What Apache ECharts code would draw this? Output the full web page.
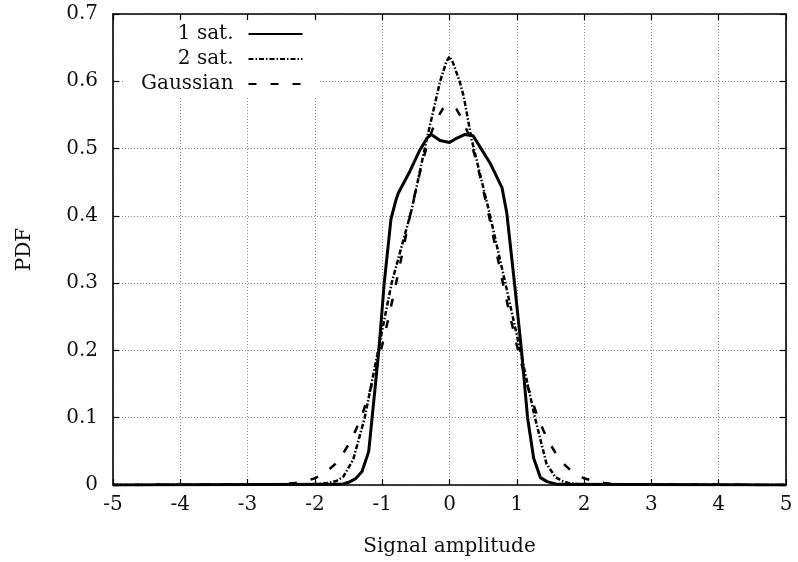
<!DOCTYPE html>
<html>
<head>
<meta charset="utf-8">
<script src="https://cdn.jsdelivr.net/npm/echarts@6/dist/echarts.min.js"></script>
<style>
  html, body { margin: 0; padding: 0; background: #fff; }
  #chart { width: 798px; height: 562px; }
</style>
</head>
<body>
<div id="chart"></div>
<script>
"use strict";

// values
const seriesNames = ["1 sat.", "2 sat.", "Gaussian"];

const sat1X = [-5, -1.6, -1.5, -1.4, -1.3, -1.2, -1.15, -1.05, -0.97, -0.87, -0.8, -0.76, -0.59, -0.44, -0.33, -0.27, -0.14, 0, 0.08, 0.23, 0.35, 0.4, 0.6, 0.78, 0.85, 0.9, 0.97, 1.07, 1.16, 1.25, 1.35, 1.45, 1.6, 5];
const sat1Y = [0, 0.001, 0.004, 0.009, 0.02, 0.05, 0.1, 0.2, 0.3, 0.395, 0.422, 0.434, 0.466, 0.498, 0.516, 0.521, 0.512, 0.509, 0.514, 0.521, 0.519, 0.511, 0.479, 0.442, 0.405, 0.36, 0.296, 0.2, 0.1, 0.04, 0.011, 0.005, 0.001, 0];

const sat2X = [-5, -2.0, -1.8, -1.68, -1.58, -1.43, -1.26, -1.06, -0.86, -0.56, -0.34, -0.19, -0.14, -0.05, 0, 0.05, 0.15, 0.21, 0.33, 0.58, 0.83, 1.05, 1.27, 1.44, 1.57, 1.67, 1.8, 2.0, 5];
const sat2Y = [0, 0.001, 0.003, 0.006, 0.012, 0.038, 0.1, 0.2, 0.3, 0.41, 0.513, 0.578, 0.6, 0.628, 0.637, 0.628, 0.6, 0.578, 0.513, 0.41, 0.3, 0.2, 0.1, 0.032, 0.012, 0.006, 0.002, 0.001, 0];

const gaussX = [-5, -2.6, -2.4, -2.3, -2.2, -2.1, -2.0, -1.9, -1.8, -1.7, -1.6, -1.5, -1.4, -1.3, -1.2, -1.1, -1.0, -0.9, -0.8, -0.7, -0.6, -0.5, -0.4, -0.3, -0.2, -0.1, 0,
  0.1, 0.2, 0.3, 0.4, 0.5, 0.6, 0.7, 0.8, 0.9, 1.0, 1.1, 1.2, 1.3, 1.4, 1.5, 1.6, 1.7, 1.8, 1.9, 2.0, 2.1, 2.2, 2.3, 2.4, 2.6, 5];
const gaussY = [0, 0.001, 0.002, 0.003, 0.0045, 0.007, 0.010, 0.015, 0.022, 0.031, 0.044, 0.060, 0.080, 0.104, 0.134, 0.168, 0.208, 0.251, 0.297, 0.345, 0.394, 0.439, 0.481, 0.516, 0.542, 0.559, 0.564,
  0.559, 0.542, 0.516, 0.481, 0.439, 0.394, 0.345, 0.297, 0.251, 0.208, 0.168, 0.134, 0.104, 0.080, 0.060, 0.044, 0.031, 0.022, 0.015, 0.010, 0.007, 0.0045, 0.003, 0.002, 0.001, 0];

const xTicks = { min: -5, max: 5, step: 1 };
const yTicks = { min: 0, max: 0.7, step: 0.1 };

const font = "DejaVu Serif";
const pairs = (xs, ys) => xs.map((x, i) => [x, ys[i]]);

const gridLine = { show: true, lineStyle: { color: "#8a8a8a", width: 1, type: [1, 2] } };
const border = { show: true, onZero: false, lineStyle: { color: "#000", width: 1.6 } };
const inTick = { show: true, inside: true, length: 6, lineStyle: { color: "#000", width: 1.2 } };
const tickLabel = { color: "#111", fontFamily: font, fontSize: 20 };

const chart = echarts.init(document.getElementById("chart"), null, { renderer: "canvas" });

chart.setOption({
  animation: false,
  backgroundColor: "#fff",
  grid: { left: 113, right: 12, top: 14, bottom: 76, containLabel: false },
  legend: {
    orient: "vertical", align: "right", left: 123, top: 20,
    padding: [4, 15, 3, 18], itemGap: 5, itemWidth: 54, itemHeight: 20,
    backgroundColor: "#fff", selectedMode: false,
    itemStyle: { opacity: 0 },
    textStyle: { color: "#111", fontFamily: font, fontSize: 20, lineHeight: 20, padding: [0, 10, 0, 0] },
    data: seriesNames,
  },
  xAxis: [
    {
      type: "value", min: xTicks.min, max: xTicks.max, interval: xTicks.step, position: "bottom",
      axisLine: border, axisTick: inTick, splitLine: gridLine,
      axisLabel: { ...tickLabel, margin: 10 },
      name: "Signal amplitude", nameLocation: "middle", nameGap: 52,
      nameTextStyle: { color: "#111", fontFamily: font, fontSize: 20 },
    },
    {
      type: "value", min: xTicks.min, max: xTicks.max, interval: xTicks.step, position: "top",
      axisLine: border, axisTick: inTick, splitLine: { show: false }, axisLabel: { show: false },
    },
  ],
  yAxis: [
    {
      type: "value", min: yTicks.min, max: yTicks.max, interval: yTicks.step, position: "left",
      axisLine: border, axisTick: inTick, splitLine: gridLine,
      axisLabel: { ...tickLabel, margin: 15 },
      name: "PDF", nameLocation: "middle", nameGap: 78, nameRotate: 90,
      nameTextStyle: { color: "#111", fontFamily: font, fontSize: 20 },
    },
    {
      type: "value", min: yTicks.min, max: yTicks.max, interval: yTicks.step, position: "right",
      axisLine: border, axisTick: inTick, splitLine: { show: false }, axisLabel: { show: false },
    },
  ],
  series: [
    {
      name: seriesNames[0], type: "line", symbol: "none", data: pairs(sat1X, sat1Y),
      lineStyle: { color: "#000", width: 3 }, itemStyle: { color: "#000" },
    },
    {
      name: seriesNames[1], type: "line", symbol: "none", data: pairs(sat2X, sat2Y),
      lineStyle: { color: "#000", width: 2.5, type: [5, 2, 1.5, 2] }, itemStyle: { color: "#000" },
    },
    {
      name: seriesNames[2], type: "line", symbol: "none", data: pairs(gaussX, gaussY),
      lineStyle: { color: "#000", width: 2.5, type: [8, 14] }, itemStyle: { color: "#000" },
    },
  ],
});
</script>
</body>
</html>
